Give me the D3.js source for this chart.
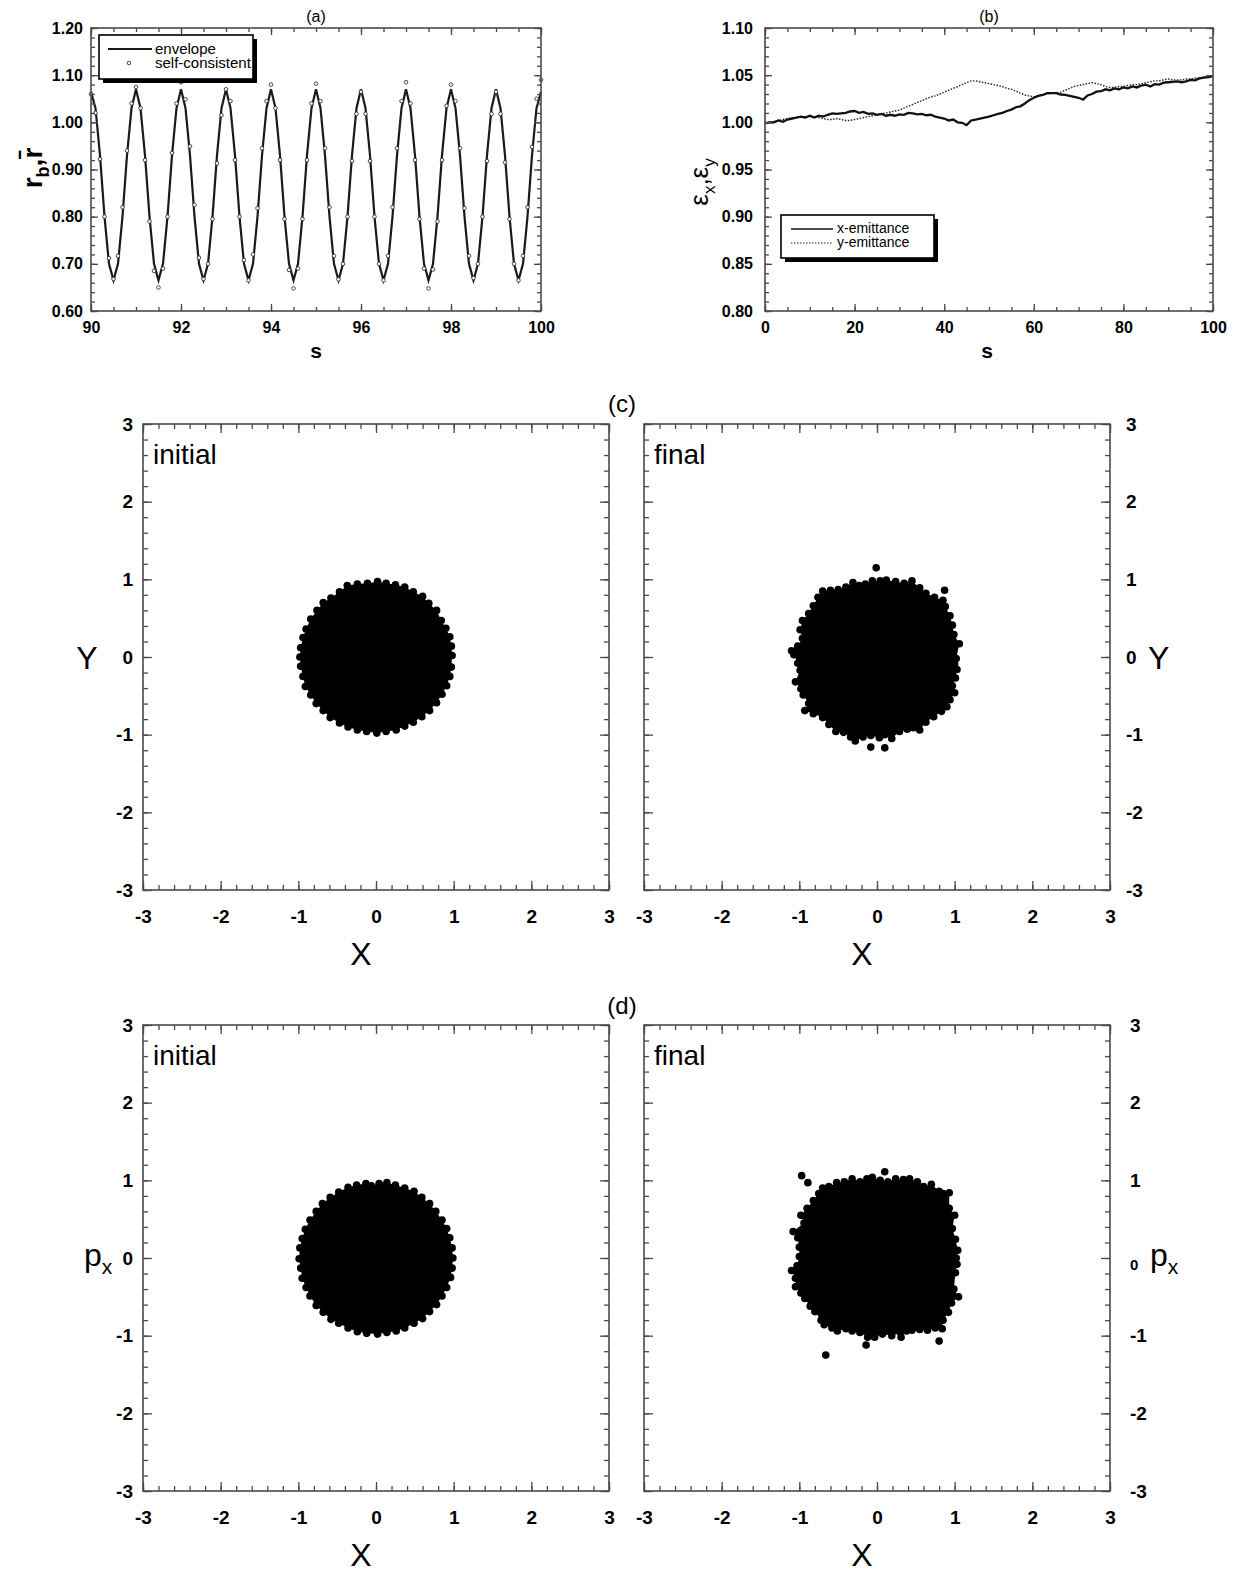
<!DOCTYPE html>
<html>
<head>
<meta charset="utf-8">
<script src="https://cdnjs.cloudflare.com/ajax/libs/d3/7.8.5/d3.min.js"></script>
<style>
  body { margin: 0; background: #fff; }
  text { font-family: "Liberation Sans", Arial, Helvetica, sans-serif; fill: #000; }
</style>
</head>
<body>
<script>
//********************* DATA ************************************

// (a) envelope radius and self-consistent rms radius, s = 90.0 ... 100.0 every 0.1
var envelope = [
  1.065,1.030,0.930,0.800,0.700,0.665,0.700,0.800,0.930,1.030,
  1.070,1.030,0.930,0.800,0.700,0.665,0.700,0.800,0.930,1.030,
  1.070,1.030,0.930,0.800,0.700,0.665,0.700,0.800,0.930,1.030,
  1.070,1.030,0.930,0.800,0.700,0.665,0.700,0.800,0.930,1.030,
  1.070,1.030,0.930,0.800,0.700,0.665,0.700,0.800,0.930,1.030,
  1.070,1.030,0.930,0.800,0.700,0.665,0.700,0.800,0.930,1.030,
  1.070,1.030,0.930,0.800,0.700,0.665,0.700,0.800,0.930,1.030,
  1.070,1.030,0.930,0.800,0.700,0.665,0.700,0.800,0.930,1.030,
  1.070,1.030,0.930,0.800,0.700,0.665,0.700,0.800,0.930,1.030,
  1.070,1.030,0.930,0.800,0.700,0.665,0.700,0.800,0.930,1.030,
  1.065];
var selfConsistent = [
  1.060,1.020,0.922,0.800,0.712,0.668,0.717,0.820,0.940,1.040,
  1.075,1.030,0.920,0.790,0.685,0.650,0.690,0.800,0.935,1.040,
  1.085,1.049,0.949,0.825,0.713,0.668,0.700,0.795,0.913,1.015,
  1.070,1.045,0.920,0.800,0.708,0.665,0.720,0.818,0.945,1.045,
  1.080,1.030,0.920,0.795,0.687,0.648,0.690,0.795,0.920,1.040,
  1.082,1.045,0.945,0.820,0.717,0.667,0.700,0.800,0.918,1.018,
  1.065,1.018,0.918,0.800,0.700,0.665,0.717,0.820,0.945,1.045,
  1.085,1.040,0.920,0.795,0.690,0.648,0.688,0.790,0.920,1.035,
  1.080,1.045,0.945,0.818,0.717,0.670,0.700,0.800,0.918,1.018,
  1.065,1.018,0.915,0.795,0.700,0.665,0.717,0.820,0.948,1.050,
  1.090];
var aTicksX = [90, 92, 94, 96, 98, 100];
var aTicksY = [0.60, 0.70, 0.80, 0.90, 1.00, 1.10, 1.20];

// (b) emittances, s = 0 ... 100 every 1
var xEmittance = [
  0.999,1.000,1.000,1.002,1.0005,1.003,1.004,1.005,1.006,1.005,
  1.007,1.005,1.007,1.006,1.008,1.0095,1.009,1.0095,1.010,1.0115,
  1.012,1.010,1.011,1.009,1.0095,1.008,1.009,1.007,1.008,1.007,
  1.0085,1.008,1.010,1.0095,1.0085,1.009,1.0075,1.008,1.006,1.005,
  1.004,1.002,1.003,1.000,0.9995,0.997,1.002,1.003,1.004,1.005,
  1.006,1.0075,1.009,1.010,1.012,1.0135,1.016,1.017,1.020,1.0235,
  1.026,1.028,1.029,1.031,1.031,1.031,1.0295,1.029,1.028,1.027,
  1.026,1.024,1.0285,1.030,1.0325,1.033,1.035,1.034,1.036,1.035,
  1.037,1.036,1.038,1.037,1.039,1.040,1.038,1.0405,1.040,1.042,
  1.0425,1.043,1.0435,1.0425,1.0435,1.045,1.0445,1.0465,1.0475,1.048,
  1.049];
var yEmittance = [
  1.000,1.000,1.001,1.002,1.003,1.004,1.005,1.005,1.006,1.006,
  1.006,1.006,1.005,1.004,1.003,1.003,1.004,1.003,1.002,1.002,
  1.003,1.004,1.005,1.006,1.007,1.008,1.009,1.010,1.011,1.012,
  1.013,1.015,1.017,1.019,1.021,1.023,1.025,1.027,1.028,1.030,
  1.032,1.034,1.036,1.038,1.040,1.042,1.044,1.044,1.043,1.042,
  1.041,1.040,1.039,1.038,1.036,1.035,1.033,1.031,1.029,1.028,
  1.027,1.028,1.029,1.030,1.031,1.031,1.032,1.034,1.036,1.038,
  1.039,1.040,1.041,1.042,1.041,1.040,1.038,1.037,1.037,1.038,
  1.038,1.039,1.040,1.040,1.041,1.042,1.043,1.044,1.044,1.045,
  1.046,1.045,1.045,1.045,1.046,1.046,1.047,1.047,1.048,1.048,
  1.049];
var bTicksX = [0, 20, 40, 60, 80, 100];
var bTicksY = [0.80, 0.85, 0.90, 0.95, 1.00, 1.05, 1.10];

// (c) X-Y and (d) X-px: outermost particles of each cloud (in order round the edge), plus strays
var xyInitial = [[0.98,0.02],[0.97,0.14],[0.95,0.26],[0.90,0.37],[0.84,0.47],[0.78,0.60],[0.68,0.69],[0.60,0.78],
  [0.48,0.84],[0.37,0.90],[0.25,0.93],[0.13,0.95],[0.02,0.97],[-0.11,0.95],[-0.24,0.94],[-0.37,0.92],
  [-0.47,0.84],[-0.58,0.76],[-0.68,0.70],[-0.76,0.60],[-0.84,0.49],[-0.90,0.36],[-0.94,0.25],[-0.97,0.12],
  [-0.98,0.00],[-0.97,-0.12],[-0.94,-0.25],[-0.91,-0.38],[-0.84,-0.49],[-0.77,-0.60],[-0.68,-0.69],[-0.59,-0.78],
  [-0.47,-0.85],[-0.36,-0.90],[-0.24,-0.94],[-0.12,-0.96],[0.01,-0.98],[0.13,-0.96],[0.26,-0.94],[0.37,-0.89],
  [0.48,-0.84],[0.59,-0.77],[0.69,-0.69],[0.78,-0.59],[0.85,-0.48],[0.91,-0.37],[0.95,-0.25],[0.97,-0.13]];
var xyInitialStray = [];
var xyFinal = [[1.02,-0.02],[1.06,0.17],[0.99,0.29],[0.97,0.41],[0.94,0.53],[0.88,0.65],[0.85,0.73],[0.74,0.77],
  [0.63,0.82],[0.55,0.89],[0.45,0.98],[0.35,0.95],[0.24,0.97],[0.12,0.99],[0.04,0.98],[-0.06,0.98],
  [-0.15,0.94],[-0.23,0.92],[-0.31,0.96],[-0.40,0.90],[-0.50,0.87],[-0.60,0.86],[-0.70,0.85],[-0.76,0.77],
  [-0.82,0.66],[-0.88,0.56],[-0.96,0.47],[-0.99,0.35],[-0.96,0.24],[-1.02,0.14],[-1.10,0.08],[-1.07,0.03],
  [-1.02,-0.08],[-0.99,-0.17],[-1.05,-0.32],[-0.98,-0.41],[-0.95,-0.49],[-0.88,-0.60],[-0.93,-0.69],[-0.82,-0.73],
  [-0.70,-0.78],[-0.62,-0.87],[-0.53,-0.96],[-0.43,-0.97],[-0.34,-1.03],[-0.28,-1.08],[-0.18,-1.03],[-0.08,-1.01],
  [0.03,-1.04],[0.10,-1.00],[0.19,-1.05],[0.29,-0.96],[0.39,-0.93],[0.47,-0.91],[0.55,-0.94],[0.63,-0.84],
  [0.73,-0.77],[0.83,-0.70],[0.90,-0.64],[0.94,-0.55],[1.00,-0.46],[0.97,-0.37],[1.01,-0.27],[1.03,-0.16],[1.00,-0.09]];
var xyFinalStray = [[-0.01,1.15],[0.87,0.86],[-0.08,-1.16],[0.10,-1.17]];

var xpInitial = [[0.99,0.00],[0.98,0.13],[0.95,0.26],[0.91,0.38],[0.85,0.49],[0.77,0.60],[0.69,0.70],[0.59,0.78],
  [0.49,0.86],[0.37,0.90],[0.25,0.94],[0.14,0.97],[0.04,0.96],[-0.06,0.93],[-0.13,0.96],[-0.25,0.94],
  [-0.36,0.91],[-0.48,0.85],[-0.59,0.78],[-0.69,0.70],[-0.77,0.60],[-0.85,0.49],[-0.91,0.37],[-0.95,0.25],
  [-0.98,0.13],[-0.99,-0.01],[-0.97,-0.13],[-0.95,-0.26],[-0.90,-0.38],[-0.85,-0.49],[-0.77,-0.61],[-0.68,-0.70],
  [-0.58,-0.79],[-0.48,-0.84],[-0.36,-0.90],[-0.24,-0.95],[-0.12,-0.97],[0.02,-0.98],[0.14,-0.96],[0.26,-0.94],
  [0.37,-0.90],[0.49,-0.84],[0.60,-0.78],[0.69,-0.69],[0.78,-0.60],[0.85,-0.49],[0.91,-0.38],[0.96,-0.25],[0.98,-0.13]];
var xpInitialStray = [];
var xpFinal = [[1.02,0.00],[1.04,0.10],[1.01,0.24],[0.97,0.38],[1.00,0.55],[0.93,0.64],[0.93,0.84],[0.80,0.86],
  [0.70,0.95],[0.60,0.92],[0.52,0.98],[0.42,1.02],[0.34,1.01],[0.24,1.02],[0.14,0.98],[0.04,1.00],
  [-0.06,1.04],[-0.13,1.02],[-0.22,0.98],[-0.32,1.02],[-0.42,0.98],[-0.52,0.97],[-0.62,0.92],[-0.70,0.90],
  [-0.75,0.83],[-0.82,0.74],[-0.90,0.64],[-0.98,0.55],[-0.94,0.45],[-1.08,0.34],[-1.02,0.26],[-1.00,0.14],
  [-1.00,0.02],[-1.03,-0.10],[-1.10,-0.16],[-1.05,-0.26],[-1.05,-0.37],[-0.98,-0.45],[-0.93,-0.52],[-0.86,-0.62],
  [-0.80,-0.69],[-0.72,-0.80],[-0.68,-0.86],[-0.58,-0.90],[-0.51,-0.94],[-0.40,-0.91],[-0.32,-0.94],[-0.22,-0.96],
  [-0.12,-1.02],[-0.03,-1.02],[0.07,-0.98],[0.19,-1.00],[0.30,-0.96],[0.38,-0.94],[0.45,-0.93],[0.55,-0.92],
  [0.65,-0.93],[0.75,-0.90],[0.84,-0.91],[0.85,-0.80],[0.92,-0.70],[0.96,-0.58],[1.05,-0.50],[0.99,-0.40],
  [1.01,-0.19],[1.03,-0.08]];
var xpFinalStray = [[-0.97,1.06],[-0.89,0.97],[0.10,1.11],[0.85,0.83],[-0.14,-1.12],[-0.66,-1.25],[0.80,-1.07],[0.31,-1.02]];

var phaseTicks = [-3, -2, -1, 0, 1, 2, 3];


//********************* HELPERS ************************************

var FRAME = "#4a4a4a";

var svg = d3.select("body").append("svg")
    .attr("width", 1237)
    .attr("height", 1572);

// inward ticks on all four sides
function ticksAll(g, x, y, w, h, xv, yv, len) {
  g.append("g").attr("transform", "translate(0," + h + ")")
      .call(d3.axisBottom(x).tickValues(xv).tickSize(-len).tickFormat(""));
  g.append("g")
      .call(d3.axisTop(x).tickValues(xv).tickSize(-len).tickFormat(""));
  g.append("g")
      .call(d3.axisLeft(y).tickValues(yv).tickSize(-len).tickFormat(""));
  g.append("g").attr("transform", "translate(" + w + ",0)")
      .call(d3.axisRight(y).tickValues(yv).tickSize(-len).tickFormat(""));
}

function frame(g, x, y, w, h, xMaj, xMin, yMaj, yMin, majLen, minLen) {
  ticksAll(g, x, y, w, h, xMin, yMin, minLen);
  ticksAll(g, x, y, w, h, xMaj, yMaj, majLen);
  g.selectAll(".domain").remove();
  g.selectAll(".tick line").attr("stroke", FRAME).attr("stroke-width", 1.3);
  g.append("rect")
      .attr("width", w).attr("height", h)
      .attr("fill", "none").attr("stroke", FRAME).attr("stroke-width", 1.6);
}

function tickLabels(g, axis, transform, size) {
  var a = g.append("g").attr("transform", transform).call(axis);
  a.select(".domain").remove();
  a.selectAll(".tick line").remove();
  a.selectAll("text").attr("font-size", size).attr("font-weight", "bold");
  return a;
}

function label(x, y, txt, size, anchor, weight) {
  return svg.append("text")
      .attr("x", x).attr("y", y)
      .attr("font-size", size)
      .attr("text-anchor", anchor || "middle")
      .attr("font-weight", weight || "normal")
      .text(txt);
}

function legendBox(x, y, w, h) {
  svg.append("rect").attr("x", x + 4).attr("y", y + 4).attr("width", w).attr("height", h).attr("fill", "#000");
  svg.append("rect").attr("x", x).attr("y", y).attr("width", w).attr("height", h)
      .attr("fill", "#fff").attr("stroke", "#000").attr("stroke-width", 1.6);
}

function rng(a, b, step) {
  return d3.range(0, Math.round((b - a) / step) + 1).map(function(i) { return +(a + i * step).toFixed(4); });
}


//********************* PANEL (a) ************************************

var aW = 450, aH = 283;
var aX = d3.scaleLinear().domain([90, 100]).range([0, aW]);
var aY = d3.scaleLinear().domain([0.6, 1.2]).range([aH, 0]);
var sA = envelope.map(function(d, i) { return 90 + i / 10; });

var ga = svg.append("g").attr("transform", "translate(91,28)");

ga.append("path")
    .datum(envelope)
    .attr("d", d3.line().x(function(d, i) { return aX(sA[i]); }).y(function(d) { return aY(d); }))
    .attr("fill", "none").attr("stroke", "#1a1a1a").attr("stroke-width", 2.2);

ga.selectAll("circle.sc")
    .data(selfConsistent)
  .join("circle")
    .attr("class", "sc")
    .attr("cx", function(d, i) { return aX(sA[i]); })
    .attr("cy", function(d) { return aY(d); })
    .attr("r", 1.8)
    .attr("fill", "#fff").attr("stroke", "#333").attr("stroke-width", 0.9);

frame(ga, aX, aY, aW, aH, aTicksX, rng(90, 100, 0.5), aTicksY, rng(0.6, 1.2, 0.02), 7, 4);
tickLabels(ga, d3.axisBottom(aX).tickValues(aTicksX).tickSize(0).tickPadding(11).tickFormat(d3.format("d")),
    "translate(0," + aH + ")", 16);
tickLabels(ga, d3.axisLeft(aY).tickValues(aTicksY).tickSize(0).tickPadding(8).tickFormat(d3.format(".2f")),
    null, 16);

label(316, 22, "(a)", 16);
label(316, 358, "s", 21, "middle", "bold");

var aLab = svg.append("text").attr("transform", "translate(42,168) rotate(-90)")
    .attr("text-anchor", "middle").attr("font-size", 28).attr("font-weight", "bold");
aLab.append("tspan").text("r");
aLab.append("tspan").attr("font-size", 18).attr("dy", 7).text("b");
aLab.append("tspan").attr("dy", -7).text(",r\u0304");

legendBox(99, 35, 154, 44);
svg.append("line").attr("x1", 108).attr("x2", 152).attr("y1", 49).attr("y2", 49)
    .attr("stroke", "#1a1a1a").attr("stroke-width", 2);
svg.append("circle").attr("cx", 129).attr("cy", 63).attr("r", 1.8)
    .attr("fill", "#fff").attr("stroke", "#333").attr("stroke-width", 0.9);
label(155, 54, "envelope", 15, "start");
label(155, 68, "self-consistent", 15, "start");


//********************* PANEL (b) ************************************

var bW = 448, bH = 283;
var bX = d3.scaleLinear().domain([0, 100]).range([0, bW]);
var bY = d3.scaleLinear().domain([0.8, 1.1]).range([bH, 0]);

var gb = svg.append("g").attr("transform", "translate(765,28)");

var emitLine = d3.line()
    .x(function(d, i) { return bX(i); })
    .y(function(d) { return bY(d); });

gb.append("path").datum(yEmittance).attr("d", emitLine)
    .attr("fill", "none").attr("stroke", "#222").attr("stroke-width", 1.4).attr("stroke-dasharray", "1.5,1.5");
gb.append("path").datum(xEmittance).attr("d", emitLine)
    .attr("fill", "none").attr("stroke", "#111").attr("stroke-width", 2.3);

frame(gb, bX, bY, bW, bH, bTicksX, rng(0, 100, 5), bTicksY, rng(0.8, 1.1, 0.01), 7, 4);
tickLabels(gb, d3.axisBottom(bX).tickValues(bTicksX).tickSize(0).tickPadding(11).tickFormat(d3.format("d")),
    "translate(0," + bH + ")", 16);
tickLabels(gb, d3.axisLeft(bY).tickValues(bTicksY).tickSize(0).tickPadding(12).tickFormat(d3.format(".2f")),
    null, 16);

label(989, 22, "(b)", 16);
label(987, 358, "s", 21, "middle", "bold");

var bLab = svg.append("text").attr("transform", "translate(708,182) rotate(-90)")
    .attr("text-anchor", "middle").attr("font-size", 26);
bLab.append("tspan").text("\u03b5");
bLab.append("tspan").attr("font-size", 17).attr("dy", 7).text("x");
bLab.append("tspan").attr("dy", -7).text(",\u03b5");
bLab.append("tspan").attr("font-size", 17).attr("dy", 7).text("y");

legendBox(781, 215, 153, 43);
svg.append("line").attr("x1", 791).attr("x2", 833).attr("y1", 229).attr("y2", 229)
    .attr("stroke", "#111").attr("stroke-width", 1.6);
svg.append("line").attr("x1", 791).attr("x2", 833).attr("y1", 243).attr("y2", 243)
    .attr("stroke", "#222").attr("stroke-width", 1.2).attr("stroke-dasharray", "1.5,1.5");
label(837, 233, "x-emittance", 14, "start");
label(837, 247, "y-emittance", 14, "start");


//********************* PHASE SPACE PANELS (c), (d) ************************************

var pS = 466;
var pX = d3.scaleLinear().domain([-3, 3]).range([0, pS]);
var pY = d3.scaleLinear().domain([-3, 3]).range([pS, 0]);
var fmtInt = function(d) { return String(d); };

function phasePanel(left, top, cloud, stray, tag, side, pad) {
  var g = svg.append("g").attr("transform", "translate(" + left + "," + top + ")");

  // dense core: the area enclosed by the outermost particles
  g.append("path")
      .datum(cloud)
      .attr("d", d3.line()
          .x(function(d) { return pX(d[0]); })
          .y(function(d) { return pY(d[1]); })
          .curve(d3.curveLinearClosed))
      .attr("fill", "#000");

  g.selectAll("circle.pt")
      .data(cloud.concat(stray))
    .join("circle")
      .attr("class", "pt")
      .attr("cx", function(d) { return pX(d[0]); })
      .attr("cy", function(d) { return pY(d[1]); })
      .attr("r", 3.8)
      .attr("fill", "#000");

  frame(g, pX, pY, pS, pS, phaseTicks, rng(-3, 3, 0.2), phaseTicks, rng(-3, 3, 0.2), 9, 5);
  tickLabels(g, d3.axisBottom(pX).tickValues(phaseTicks).tickSize(0).tickPadding(20).tickFormat(fmtInt),
      "translate(0," + pS + ")", 19);
  var yl;
  if (side === "left") {
    yl = tickLabels(g, d3.axisLeft(pY).tickValues(phaseTicks).tickSize(0).tickPadding(10).tickFormat(fmtInt), null, 19);
  } else {
    yl = tickLabels(g, d3.axisRight(pY).tickValues(phaseTicks).tickSize(0).tickPadding(pad).tickFormat(fmtInt),
        "translate(" + pS + ",0)", 19);
  }

  g.append("text").attr("x", 10).attr("y", 40).attr("font-size", 28).text(tag);
  g.append("text").attr("x", pS / 2 - 15).attr("y", pS + 75).attr("font-size", 32)
      .attr("text-anchor", "middle").text("X");
  return yl;
}

var cTop = 424, dTop = 1025;

phasePanel(143, cTop, xyInitial, xyInitialStray, "initial", "left");
phasePanel(644, cTop, xyFinal, xyFinalStray, "final", "right", 16);
phasePanel(143, dTop, xpInitial, xpInitialStray, "initial", "left");
var dRight = phasePanel(644, dTop, xpFinal, xpFinalStray, "final", "right", 20);
// the zero label of this axis is printed smaller and lower
dRight.selectAll(".tick").filter(function(d) { return d === 0; })
    .select("text").attr("font-size", 15).attr("dy", "0.75em");

label(622, 412, "(c)", 24);
label(622, 1014, "(d)", 24);

label(87, cTop + pS / 2 + 12, "Y", 32);
label(1148, cTop + pS / 2 + 12, "Y", 32, "start");

function pxLabel(x, y) {
  var t = svg.append("text").attr("x", x).attr("y", y).attr("font-size", 32);
  t.append("tspan").text("p");
  t.append("tspan").attr("font-size", 21).attr("dy", 8).text("x");
}
pxLabel(84, dTop + pS / 2 + 8);
pxLabel(1150, dTop + pS / 2 + 8);

</script>
</body>
</html>
